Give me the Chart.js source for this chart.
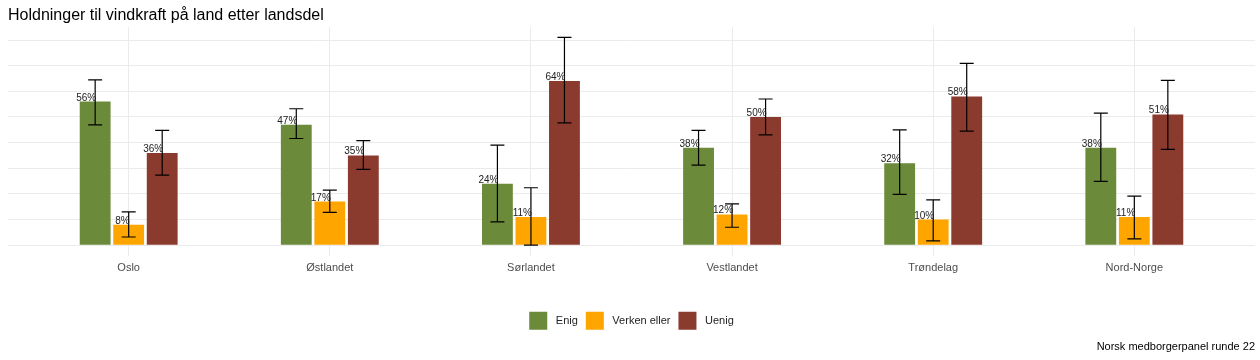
<!DOCTYPE html>
<html>
<head>
<meta charset="utf-8">
<script src="https://cdn.jsdelivr.net/npm/chart.js@4"></script>
<style>
  html, body { margin: 0; padding: 0; background: #fff; }
  #wrap { width: 1260px; height: 360px; }
</style>
</head>
<body>
<div id="wrap"><canvas id="chart" width="1260" height="360"></canvas></div>
<script>
const regions = ['Oslo', 'Østlandet', 'Sørlandet', 'Vestlandet', 'Trøndelag', 'Nord-Norge'];
const seriesNames = ['Enig', 'Verken eller', 'Uenig'];
const seriesColors = ['#6b8a3a', '#ffa500', '#8b3a2e'];

// share in percent, with lower / upper bounds of the error bars
const enig = [56, 47, 24, 38, 32, 38];
const enigLow = [46.9, 41.6, 9.1, 31.2, 19.8, 24.9];
const enigHigh = [64.5, 53.2, 39, 44.8, 45, 51.5];

const verken = [8, 17, 11, 12, 10, 11];
const verkenLow = [3.2, 12.8, 0, 7, 1.7, 2.5];
const verkenHigh = [13, 21.5, 22.4, 16.1, 17.7, 19.1];

const uenig = [36, 35, 64, 50, 58, 51];
const uenigLow = [27.3, 29.6, 47.7, 43, 44.5, 37.4];
const uenigHigh = [44.8, 40.8, 81, 57, 70.9, 64.3];

const gridTicks = [0, 10, 20, 30, 40, 50, 60, 70, 80];

const values = [enig, verken, uenig];
const lows = [enigLow, verkenLow, uenigLow];
const highs = [enigHigh, verkenHigh, uenigHigh];

const errorBarPlugin = {
  id: 'errorBars',
  afterDatasetsDraw: (chart) => {
    const ctx = chart.ctx;
    const y = chart.scales.y;
    ctx.save();
    chart.data.datasets.forEach((ds, di) => {
      const meta = chart.getDatasetMeta(di);
      meta.data.forEach((bar, i) => {
        const yTop = y.getPixelForValue(highs[di][i]);
        const yBot = y.getPixelForValue(lows[di][i]);
        ctx.strokeStyle = '#000';
        ctx.lineWidth = 1.2;
        ctx.beginPath();
        ctx.moveTo(bar.x, yTop);
        ctx.lineTo(bar.x, yBot);
        ctx.moveTo(bar.x - 7, yTop);
        ctx.lineTo(bar.x + 7, yTop);
        ctx.moveTo(bar.x - 7, yBot);
        ctx.lineTo(bar.x + 7, yBot);
        ctx.stroke();
        // percent label, ending at bar centre, resting on bar top
        ctx.fillStyle = '#222';
        ctx.font = '10px "Liberation Sans", Arial, sans-serif';
        ctx.textAlign = 'right';
        ctx.textBaseline = 'alphabetic';
        ctx.fillText(values[di][i] + '%', bar.x + 1, bar.y - 1);
      });
    });
    ctx.restore();
  }
};

const datasets = seriesNames.map((name, di) => ({
  label: ' ' + name,
  data: values[di].map((v, i) => ({ x: i, y: v })),
  backgroundColor: seriesColors[di],
  borderWidth: 0,
  categoryPercentage: 0.5,
  barPercentage: 0.92
}));

new Chart(document.getElementById('chart'), {
  type: 'bar',
  data: { datasets: datasets },
  options: {
    responsive: false,
    animation: false,
    layout: { padding: { left: 8, right: 5, top: 0, bottom: 4 } },
    scales: {
      x: {
        type: 'linear',
        offset: false,
        min: -0.6,
        max: 5.6,
        afterBuildTicks: (axis) => { axis.ticks = regions.map((r, i) => ({ value: i })); },
        afterFit: (axis) => { axis.height = axis.height + 23; },
        ticks: {
          callback: (v) => regions[v],
          color: '#4d4d4d',
          font: { size: 11, family: '"Liberation Sans", Arial, sans-serif' },
          padding: 6,
          maxRotation: 0
        },
        grid: { color: '#ebebeb', drawTicks: false, offset: false },
        border: { display: false }
      },
      y: {
        min: -4.05,
        max: 85,
        afterBuildTicks: (axis) => { axis.ticks = gridTicks.map(v => ({ value: v })); },
        ticks: { display: false },
        grid: { color: '#ebebeb', drawTicks: false },
        border: { display: false }
      }
    },
    plugins: {
      tooltip: { enabled: false },
      legend: {
        position: 'bottom',
        labels: {
          boxWidth: 18,
          boxHeight: 18,
          padding: 8,
          color: '#222',
          font: { size: 11, family: '"Liberation Sans", Arial, sans-serif' }
        }
      },
      title: {
        display: true,
        text: 'Holdninger til vindkraft på land etter landsdel',
        align: 'start',
        color: '#000',
        font: { size: 16, weight: 'normal', family: '"Liberation Sans", Arial, sans-serif' },
        padding: { top: 6, bottom: 2 }
      },
      subtitle: {
        display: true,
        text: 'Norsk medborgerpanel runde 22',
        position: 'bottom',
        align: 'end',
        color: '#000',
        font: { size: 11, family: '"Liberation Sans", Arial, sans-serif' },
        padding: { top: 1, bottom: 2 }
      }
    }
  },
  plugins: [errorBarPlugin]
});
</script>
</body>
</html>
